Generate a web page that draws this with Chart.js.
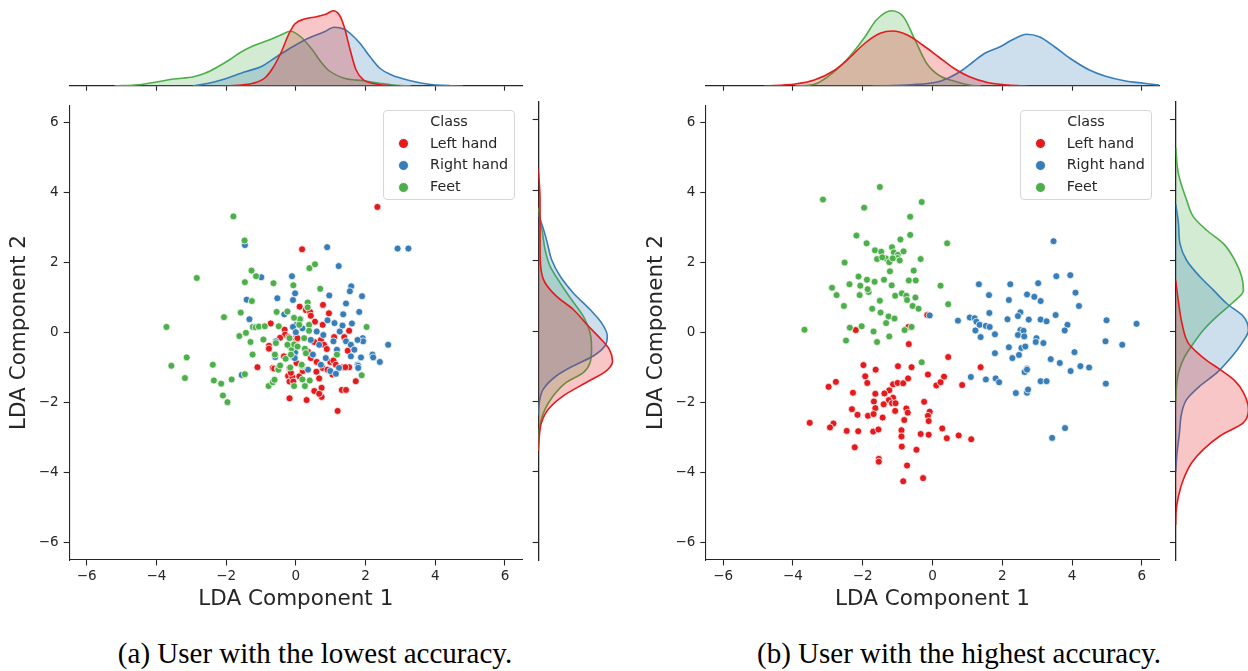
<!DOCTYPE html>
<html>
<head>
<meta charset="utf-8">
<script src="https://cdn.jsdelivr.net/npm/chart.js@4.4.1/dist/chart.umd.min.js"></script>
<style>
  html, body { margin:0; padding:0; background:#fff; width:1248px; height:671px; overflow:hidden; position:relative; }
  canvas { position:absolute; }
  .legend { position:absolute; box-sizing:border-box; width:132px; height:90px; border:1px solid #d6d6d6; border-radius:4px; background:rgba(255,255,255,0.8); font-family:"DejaVu Sans"; font-size:14.3px; color:#262626; }
  .legend .t { position:absolute; left:0; width:100%; text-align:center; line-height:16px; white-space:nowrap; }
  .legend .lab { position:absolute; line-height:16px; white-space:nowrap; }
  .legend .dot { position:absolute; width:11px; height:11px; border-radius:50%; box-sizing:border-box; border:0.8px solid #fff; }
  .cap { position:absolute; font-family:"Liberation Serif","Times New Roman",serif; font-size:29px; line-height:29px; color:#000; text-align:center; white-space:nowrap; }
</style>
</head>
<body>
<script>
// ---------------- data ----------------
const classNames = ['Left hand', 'Right hand', 'Feet'];
const tickVals = [-6, -4, -2, 0, 2, 4, 6];

// (a) lowest accuracy : scatter points [LDA1, LDA2]
const aLeft = [[2.34,3.59],[0.18,2.38],[0.11,0.74],[0.78,0.79],[0.29,0.64],[0.41,0.59],[0.13,0.39],[0.43,0.48],[0.55,0.31],[0.77,0.22],[-0.72,0.26],[-0.32,0.08],[-0.31,-0.06],[-0.21,-0.13],[0.02,-0.11],[0.02,-0.20],[1.10,-0.13],[1.39,-0.13],[1.53,0.05],[0.05,-0.16],[0.53,-0.27],[0.72,-0.21],[0.81,-0.35],[0.89,-0.47],[1.49,-0.52],[-0.77,-0.38],[-0.77,-0.46],[-0.34,-0.68],[0.02,-0.87],[0.43,-0.73],[0.60,-0.84],[0.99,-0.84],[1.08,-0.80],[1.15,-0.92],[1.34,-0.99],[1.53,-0.99],[0.77,-1.01],[-1.10,-0.99],[-0.66,-1.01],[-0.62,-1.03],[-0.18,-1.01],[-0.22,-1.24],[-0.18,-1.40],[-0.10,-1.27],[-0.07,-1.40],[0.10,-1.25],[-0.18,-1.88],[0.31,-1.93],[1.72,-1.39],[1.42,-0.99],[1.05,-1.20],[0.91,-1.06],[0.59,-1.12],[0.67,-1.31],[0.74,-1.58],[0.53,-1.67],[0.74,-1.84],[0.67,-1.75],[1.32,-1.64],[1.44,-1.64],[1.20,-2.24],[-0.14,-1.15],[0.35,-0.55],[0.20,-1.10],[0.95,0.55],[-0.45,-0.15]];
const aRight = [[-1.46,2.50],[0.90,2.44],[2.92,2.40],[3.23,2.40],[1.23,1.90],[-0.99,1.58],[-0.11,1.61],[-0.02,1.12],[-1.41,0.94],[-0.53,0.98],[-0.08,0.93],[-1.33,0.38],[-0.33,0.52],[0.02,0.22],[-0.08,0.16],[-0.57,-0.25],[-0.02,-0.57],[-0.08,-0.70],[-0.59,-0.70],[1.59,1.32],[1.55,1.18],[0.96,1.06],[1.90,1.04],[1.44,0.83],[1.36,0.52],[1.82,0.59],[0.91,0.35],[1.11,0.27],[1.34,0.20],[1.61,0.26],[0.00,0.01],[0.19,0.12],[0.60,0.03],[0.79,-0.07],[1.26,0.03],[1.44,-0.25],[1.92,-0.16],[1.93,-0.25],[0.43,-0.21],[0.67,-0.35],[1.08,-0.25],[1.18,-0.49],[1.58,-0.35],[1.68,-0.49],[1.77,-0.21],[-0.14,-0.44],[0.49,-0.63],[-0.03,-0.73],[0.72,-0.92],[0.86,-0.73],[1.77,-0.92],[1.58,-0.68],[2.20,-0.63],[2.22,-0.71],[2.41,-0.84],[2.65,-0.35],[1.87,-0.71],[1.24,-1.01],[1.79,-0.95],[1.79,-1.01],[0.99,-1.10],[1.15,-1.18],[0.35,-1.06],[-1.55,-1.21]];
const aFeet = [[-1.79,3.32],[-1.47,2.63],[-2.84,1.56],[-1.27,1.77],[-1.14,1.61],[0.39,1.84],[0.55,1.95],[-1.46,1.44],[-0.64,1.41],[-0.07,1.35],[-1.26,0.90],[-1.58,0.57],[-2.06,0.44],[-0.55,0.59],[-0.24,0.60],[0.12,0.38],[-1.23,0.16],[-1.15,0.15],[-1.06,0.17],[-0.89,0.18],[-0.49,0.18],[-3.71,0.16],[-1.43,-0.01],[-1.62,-0.10],[-1.30,-0.27],[-0.57,-0.30],[-0.18,-0.16],[-0.16,-0.42],[-0.12,-0.45],[-0.05,-0.34],[-0.93,-0.20],[-1.24,-0.63],[-0.60,-0.63],[-3.13,-0.71],[-3.57,-0.95],[-2.38,-0.92],[-0.29,-0.75],[-0.16,-1.00],[-0.51,-1.02],[0.19,-0.97],[-3.18,-1.30],[-2.35,-1.37],[-2.14,-1.46],[-1.84,-1.34],[-1.46,-1.19],[-2.09,-1.80],[-1.96,-1.99],[-0.78,-1.53],[-0.66,-1.42],[-0.61,-1.35],[-0.50,-1.06],[-0.45,-0.94],[0.17,-0.95],[-0.05,-1.53],[0.19,-1.34],[0.26,-1.53],[0.40,-1.37],[0.70,1.25],[0.34,0.86],[0.34,0.72],[-0.05,0.42],[2.03,0.16],[0.10,0.22],[0.38,0.22],[0.38,0.05],[0.24,-0.16],[-0.24,-0.35],[0.05,-0.40],[0.26,-0.46],[0.29,-0.59],[-0.14,-0.63],[0.17,-0.92],[1.18,-0.63],[1.89,-1.22]];

// (b) highest accuracy : scatter points [LDA1, LDA2]
const bLeft = [[-2.20,0.07],[-0.69,0.16],[-0.15,0.50],[-0.68,-0.33],[0.45,-0.70],[-1.98,-0.93],[-1.63,-1.06],[-0.99,-0.96],[-0.60,-0.99],[-0.13,-1.20],[0.33,-1.26],[0.11,-1.51],[0.23,-1.42],[-2.98,-1.55],[-2.77,-1.41],[-1.93,-1.25],[-1.87,-1.44],[-2.28,-1.72],[-1.64,-1.75],[-1.24,-1.65],[-1.13,-1.48],[-1.00,-1.44],[-0.84,-1.45],[-0.70,-1.31],[-1.38,-1.74],[-1.13,-1.86],[-1.25,-1.93],[-1.16,-2.02],[-1.06,-2.02],[-1.68,-1.97],[-1.40,-2.05],[-1.64,-2.16],[-1.07,-2.24],[-2.31,-2.19],[-2.15,-2.35],[-1.85,-2.38],[-1.69,-2.33],[-1.43,-2.43],[-0.75,-2.17],[-0.71,-2.29],[-0.81,-2.50],[-0.24,-1.98],[-0.08,-2.26],[-0.13,-2.38],[-0.11,-2.53],[-3.52,-2.58],[-2.84,-2.60],[-2.94,-2.71],[-2.46,-2.81],[-2.13,-2.82],[-1.70,-2.83],[-1.55,-2.77],[-0.89,-2.79],[-0.89,-2.97],[-0.34,-2.90],[-0.11,-2.92],[0.28,-2.74],[0.41,-3.02],[-2.23,-3.28],[-0.88,-3.26],[-0.46,-3.35],[-1.54,-3.61],[-1.54,-3.69],[-0.73,-3.80],[-0.27,-4.16],[-0.84,-4.25],[1.38,-0.99],[0.85,-1.50],[0.75,-2.94],[1.11,-3.05]];
const bRight = [[-0.08,0.49],[3.47,2.61],[3.55,1.61],[3.95,1.64],[1.33,1.38],[2.23,1.38],[3.03,1.41],[1.62,1.07],[2.71,1.09],[2.92,1.02],[3.10,0.90],[2.19,0.93],[4.10,1.14],[4.20,0.76],[1.63,0.56],[2.52,0.58],[2.45,0.47],[3.53,0.50],[0.73,0.34],[1.07,0.43],[1.21,0.41],[1.26,0.31],[1.35,0.22],[1.53,0.19],[1.64,0.16],[2.15,0.38],[2.76,0.37],[3.10,0.37],[3.27,0.32],[3.87,0.22],[3.79,0.06],[4.99,0.35],[5.85,0.25],[1.23,0.06],[1.38,-0.13],[1.79,-0.05],[2.52,0.07],[2.61,0.05],[2.45,-0.07],[2.63,-0.11],[2.98,-0.16],[2.96,-0.27],[3.18,-0.30],[2.19,-0.42],[2.55,-0.44],[2.66,-0.40],[1.79,-0.59],[2.29,-0.73],[2.48,-0.64],[4.07,-0.56],[4.96,-0.25],[5.44,-0.35],[3.39,-0.76],[3.65,-0.87],[4.24,-0.96],[4.49,-1.00],[2.71,-1.03],[3.96,-1.10],[1.10,-1.27],[1.53,-1.34],[1.81,-1.31],[1.91,-1.42],[2.39,-1.73],[2.64,-1.13],[2.71,-1.06],[2.71,-1.72],[2.74,-1.63],[3.10,-1.39],[3.27,-1.39],[4.97,-1.46],[3.43,-3.01],[3.80,-2.73]];
const bFeet = [[-1.51,4.16],[-3.14,3.80],[-0.31,3.73],[-1.96,3.57],[-0.64,3.31],[-0.64,2.79],[-2.18,2.77],[-0.92,2.66],[-1.89,2.55],[0.42,2.55],[-1.65,2.35],[-1.47,2.31],[-1.16,2.44],[-1.11,2.29],[-0.99,2.22],[-0.83,2.32],[-1.00,2.13],[-1.34,2.12],[-1.59,2.10],[-1.44,2.15],[-1.24,2.01],[-1.14,2.12],[-0.94,2.06],[-0.34,2.10],[-2.52,2.00],[-1.22,1.75],[-0.54,1.77],[-2.12,1.60],[-1.88,1.51],[-1.66,1.45],[-1.39,1.51],[-0.68,1.49],[-0.48,1.49],[-2.88,1.28],[-2.38,1.38],[-2.07,1.34],[-1.17,1.35],[0.23,1.34],[-2.75,1.07],[-2.09,1.07],[-1.83,1.16],[-1.86,1.24],[-1.07,1.05],[-0.88,1.12],[-0.75,1.05],[-0.73,0.93],[-0.49,1.00],[-2.54,0.76],[-1.51,0.91],[-0.57,0.76],[-0.40,0.68],[0.45,0.81],[-1.73,0.68],[-1.49,0.57],[-1.26,0.46],[-1.09,0.40],[-1.33,0.27],[-2.37,0.14],[-2.03,0.18],[-3.67,0.08],[-1.69,0.03],[-0.80,0.07],[-0.60,0.16],[-2.48,-0.23],[-1.59,-0.27],[-1.24,-0.11],[-0.31,-0.85]];

// marginal densities: [position, density]
const aTopLeft  = [[-2.0,0],[-1.68,0.003],[-1.23,0.011],[-0.89,0.032],[-0.66,0.072],[-0.43,0.132],[-0.2,0.208],[-0.03,0.248],[0.25,0.268],[0.59,0.277],[0.875,0.288],[1.07,0.301],[1.25,0.284],[1.39,0.236],[1.56,0.144],[1.73,0.064],[1.95,0.024],[2.3,0.008],[2.75,0.001],[3.0,0]];
const aTopRight = [[-2.95,0],[-2.5,0.011],[-2.14,0.024],[-1.45,0.057],[-1.0,0.077],[-0.55,0.117],[-0.09,0.157],[0.36,0.191],[0.82,0.217],[1.1,0.235],[1.39,0.227],[1.61,0.204],[1.84,0.171],[2.13,0.117],[2.41,0.071],[2.75,0.044],[3.2,0.024],[3.77,0.008],[4.45,0.001],[4.8,0]];
const aTopFeet  = [[-5.2,0],[-4.52,0.005],[-3.95,0.017],[-3.5,0.028],[-2.93,0.037],[-2.59,0.052],[-2.25,0.076],[-1.91,0.104],[-1.57,0.136],[-1.23,0.16],[-0.77,0.184],[-0.43,0.204],[-0.15,0.219],[0.14,0.197],[0.48,0.144],[0.7,0.1],[0.93,0.064],[1.39,0.031],[1.95,0.021],[2.41,0.011],[2.86,0.003],[3.3,0]];
const aSideLeft  = [[4.6,0],[3.73,0.007],[2.31,0.007],[1.65,0.013],[1.37,0.027],[0.99,0.072],[0.61,0.14],[0.14,0.2],[-0.24,0.252],[-0.52,0.284],[-0.85,0.297],[-1.13,0.272],[-1.46,0.192],[-1.84,0.1],[-2.22,0.04],[-2.59,0.013],[-3.07,0.003],[-3.4,0]];
const aSideRight = [[3.3,0],[2.97,0.017],[2.5,0.036],[2.03,0.053],[1.56,0.087],[1.08,0.14],[0.61,0.207],[0.24,0.252],[-0.14,0.276],[-0.42,0.267],[-0.71,0.22],[-0.99,0.14],[-1.27,0.073],[-1.65,0.02],[-2.03,0.004],[-2.4,0]];
const aSideFeet  = [[3.5,0],[2.78,0.017],[2.31,0.027],[1.84,0.047],[1.37,0.087],[0.9,0.132],[0.42,0.18],[-0.05,0.207],[-0.52,0.213],[-0.9,0.207],[-1.18,0.18],[-1.46,0.112],[-1.84,0.06],[-2.22,0.027],[-2.59,0.009],[-3.0,0.002],[-3.4,0]];

const bTopLeft  = [[-4.83,0],[-3.94,0.008],[-3.39,0.024],[-2.83,0.061],[-2.39,0.111],[-1.94,0.171],[-1.5,0.211],[-1.14,0.22],[-0.72,0.204],[-0.28,0.164],[0.17,0.117],[0.61,0.071],[1.06,0.037],[1.61,0.013],[2.17,0.004],[2.72,0]];
const bTopRight = [[-1.72,0],[-0.61,0.005],[0.17,0.017],[0.5,0.035],[0.83,0.061],[1.17,0.097],[1.5,0.131],[1.94,0.157],[2.28,0.184],[2.7,0.207],[3.06,0.197],[3.5,0.157],[3.94,0.111],[4.5,0.064],[4.94,0.04],[5.5,0.021],[6.06,0.011],[6.5,0.004]];
const bTopFeet  = [[-3.94,0],[-3.39,0.007],[-2.83,0.056],[-2.39,0.116],[-1.94,0.196],[-1.61,0.264],[-1.17,0.301],[-0.83,0.276],[-0.5,0.184],[-0.17,0.091],[0.17,0.044],[0.61,0.02],[1.06,0.004],[1.39,0]];
const bSideLeft  = [[1.44,0],[0.78,0.012],[0.22,0.025],[-0.35,0.051],[-0.6,0.084],[-0.84,0.125],[-1.08,0.175],[-1.4,0.235],[-1.75,0.271],[-2.23,0.291],[-2.6,0.271],[-2.98,0.177],[-3.36,0.111],[-3.74,0.064],[-4.21,0.031],[-4.69,0.011],[-5.16,0.001],[-5.5,0]];
const bSideRight = [[3.6,0],[3.05,0.011],[2.48,0.017],[2.0,0.044],[1.54,0.097],[1.16,0.151],[0.78,0.204],[0.41,0.271],[0.03,0.291],[-0.35,0.264],[-0.73,0.224],[-1.19,0.164],[-1.56,0.097],[-1.94,0.044],[-2.32,0.024],[-2.89,0.015],[-3.55,0.004],[-4.0,0]];
const bSideFeet  = [[5.2,0],[4.46,0.011],[3.71,0.044],[3.24,0.071],[2.86,0.124],[2.48,0.191],[2.0,0.237],[1.54,0.264],[1.16,0.271],[0.78,0.224],[0.41,0.164],[0.03,0.111],[-0.35,0.071],[-0.73,0.036],[-1.09,0.015],[-1.38,0.006],[-2.0,0]];

const captions = ['(a) User with the lowest accuracy.', '(b) User with the highest accuracy.'];

// ---------------- styling ----------------
const LINE = ['#e41a1c', '#377eb8', '#4daf4a'];
const FILL = ['rgba(228,26,28,0.25)', 'rgba(55,126,184,0.25)', 'rgba(77,175,74,0.25)'];
const INK = '#262626';
const PX_PER_DENSITY = 250;
Chart.defaults.font.family = "'DejaVu Sans', sans-serif";

const fmt = v => (v < 0 ? '\u2212' + Math.abs(v) : String(v));
const setTicks = ax => { ax.ticks = tickVals.map(v => ({ value: v })); };

function makeCanvas(left, top, w, h) {
  const c = document.createElement('canvas');
  c.width = w; c.height = h;
  c.style.left = left + 'px'; c.style.top = top + 'px';
  c.style.width = w + 'px'; c.style.height = h + 'px';
  document.body.appendChild(c);
  return c;
}

const base = { responsive: false, animation: false, devicePixelRatio: 1, events: [],
  plugins: { legend: { display: false }, tooltip: { enabled: false } } };

function mainAxis(title, isX, yw) {
  return {
    type: 'linear', min: -6.5, max: 6.5,
    afterBuildTicks: setTicks,
    afterFit: ax => { if (isX) ax.height = 65; else ax.width = yw; },
    grid: { drawOnChartArea: false, drawTicks: true, tickLength: 5.5, tickWidth: 1.1, color: INK, tickColor: INK },
    border: { display: true, color: INK, width: 1.1 },
    ticks: { color: INK, font: { size: 13.5 }, padding: isX ? 3 : 5, autoSkip: false, maxRotation: 0, callback: v => fmt(v) },
    title: { display: true, text: title, color: INK, font: { size: 21.5 }, padding: isX ? { top: 0, bottom: 13 } : { top: 7, bottom: 0 } }
  };
}

function mainChart(left, yw, padRight, pts) {
  // pts in order [left, right, feet]; drawn so that feet is on top
  const order = [2, 1, 0];
  new Chart(makeCanvas(left, 92, 535, 533), {
    type: 'scatter',
    data: { datasets: order.map(k => ({
      label: classNames[k],
      data: pts[k].map(p => ({ x: p[0], y: p[1] })),
      backgroundColor: LINE[k], borderColor: '#ffffff', borderWidth: 0.75,
      pointRadius: 3.5, pointHoverRadius: 3.5
    })) },
    options: Object.assign({}, base, {
      layout: { padding: { top: 10, right: padRight, bottom: 0, left: 0 } },
      scales: { x: mainAxis('LDA Component 1', true), y: mainAxis('LDA Component 2', false, yw) }
    })
  });
}

function kdeSets(curves, vertical) {
  return curves.map((c, k) => ({
    data: c.map(p => vertical ? { x: p[1], y: p[0] } : { x: p[0], y: p[1] }),
    borderColor: LINE[k], backgroundColor: FILL[k], fill: 'origin',
    borderWidth: 1.6, pointRadius: 0, cubicInterpolationMode: 'monotone'
  }));
}

function topMarg(left, padL, padR, curves) {
  new Chart(makeCanvas(left, 0, 475, 100), {
    type: 'line',
    data: { datasets: kdeSets(curves, false) },
    options: Object.assign({}, base, {
      layout: { padding: { top: 0, left: padL, right: padR, bottom: 0 } },
      scales: {
        x: { type: 'linear', min: -6.5, max: 6.5, afterBuildTicks: setTicks, afterFit: ax => { ax.height = 14; },
             ticks: { display: false }, grid: { drawOnChartArea: false, drawTicks: true, tickLength: 4.7, tickWidth: 1.1, color: INK, tickColor: INK },
             border: { display: true, color: INK, width: 1.3 } },
        y: { type: 'linear', display: false, min: 0, max: 86 / PX_PER_DENSITY }
      }
    })
  });
}

function sideMarg(left, axW, curves) {
  new Chart(makeCanvas(left, 92, 100, 533), {
    type: 'line',
    data: { datasets: kdeSets(curves, true) },
    options: Object.assign({}, base, {
      indexAxis: 'y',
      layout: { padding: { top: 10, left: 0, right: 0, bottom: 65 } },
      scales: {
        y: { type: 'linear', position: 'left', min: -6.5, max: 6.5, afterBuildTicks: setTicks, afterFit: ax => { ax.width = axW; },
             ticks: { display: false }, grid: { drawOnChartArea: false, drawTicks: true, tickLength: 5.7, tickWidth: 1.1, color: INK, tickColor: INK },
             border: { display: true, color: INK, width: 1.3 } },
        x: { type: 'linear', display: false, min: 0, max: (100 - axW) / PX_PER_DENSITY }
      }
    })
  });
}

function legend(left, textOff) {
  const box = document.createElement('div');
  box.className = 'legend';
  box.style.left = left + 'px'; box.style.top = '109.5px';
  const t = document.createElement('div');
  t.className = 't'; t.textContent = 'Class'; t.style.top = (11.3 - 7.8 - 1) + 'px';
  box.appendChild(t);
  const rows = [33, 54.7, 76.3], dots = [33.8, 55.5, 77.5];
  classNames.forEach((n, k) => {
    const d = document.createElement('div');
    d.className = 'dot'; d.style.background = LINE[k];
    d.style.left = (20 - 5.5 - 1) + 'px'; d.style.top = (dots[k] - 5.5 - 1) + 'px';
    box.appendChild(d);
    const l = document.createElement('div');
    l.className = 'lab'; l.textContent = n;
    l.style.left = (textOff - 1) + 'px'; l.style.top = (rows[k] - 7.8 - 1) + 'px';
    box.appendChild(l);
  });
  document.body.appendChild(box);
}

function caption(cx, text) {
  const d = document.createElement('div');
  d.className = 'cap'; d.textContent = text;
  d.style.left = (cx - 300) + 'px'; d.style.width = '600px'; d.style.top = '639px';
  document.body.appendChild(d);
}

// ---------------- panel (a) ----------------
topMarg(60, 9.2, 12.6, [aTopLeft, aTopRight, aTopFeet]);
mainChart(0, 69.2, 12.6, [aLeft, aRight, aFeet]);
sideMarg(530, 8.3, [aSideLeft, aSideRight, aSideFeet]);
legend(383, 47);
caption(315, captions[0]);

// ---------------- panel (b) ----------------
topMarg(697, 8.8, 12.8, [bTopLeft, bTopRight, bTopFeet]);
mainChart(637, 68.8, 12.8, [bLeft, bRight, bFeet]);
sideMarg(1167, 8.7, [bSideLeft, bSideRight, bSideFeet]);
legend(1020, 46.7);
caption(959, captions[1]);
</script>
</body>
</html>
